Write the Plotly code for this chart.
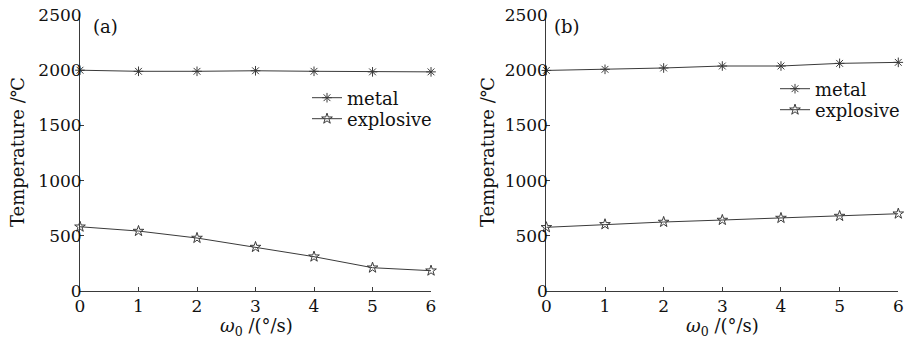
import plotly.graph_objects as go

omega = [0, 1, 2, 3, 4, 5, 6]
metal_a = [2000, 1990, 1990, 1995, 1990, 1985, 1985]
expl_a = [582, 543, 480, 398, 311, 211, 184]
metal_b = [1998, 2008, 2020, 2038, 2038, 2062, 2071]
expl_b = [577, 604, 625, 643, 661, 679, 700]
y_ticks = [0, 500, 1000, 1500, 2000, 2500]
x_ticks = [0, 1, 2, 3, 4, 5, 6]

FONT = "DejaVu Serif"
C = "#3a3a3a"
TXT = "#111"

fig = go.Figure()

def add(x, y, name, sym, xa, ya, leg):
    fig.add_trace(go.Scatter(
        x=x, y=y, name=name, mode="lines+markers", xaxis=xa, yaxis=ya,
        legend=leg, cliponaxis=False, showlegend=True,
        line=dict(color=C, width=1),
        marker=dict(symbol=sym, size=8, color=C, line=dict(color=C, width=1))))

add(omega, metal_a, "metal", "asterisk-open", "x", "y", "legend")
add(omega, expl_a, "explosive", "star-open", "x", "y", "legend2")
add(omega, metal_b, "metal", "asterisk-open", "x2", "y2", "legend3")
add(omega, expl_b, "explosive", "star-open", "x2", "y2", "legend4")

ax = dict(showgrid=False, zeroline=False, showline=True, linecolor=C, linewidth=1,
          ticks="inside", ticklen=4, tickcolor=C, mirror=False,
          tickfont=dict(family=FONT, size=17, color=TXT))

def leg(xp, yp):
    return dict(x=xp/908, y=1-yp/345, xanchor="left", yanchor="middle",
                bgcolor="rgba(0,0,0,0)", itemwidth=30,
                font=dict(family=FONT, size=18, color=TXT))

fig.update_layout(
    width=908, height=345, margin=dict(l=0, r=0, t=0, b=0, autoexpand=False),
    font=dict(family=FONT), showlegend=True,
    paper_bgcolor="white", plot_bgcolor="white",
    xaxis=dict(domain=[0.0881, 0.4747], range=[0, 6], tickvals=x_ticks, anchor="y",
               ticklabelstandoff=0, **ax),
    yaxis=dict(domain=[0.1565, 0.9565], range=[0, 2500], tickvals=y_ticks, anchor="x",
               ticklabelstandoff=-6, **ax),
    xaxis2=dict(domain=[0.6017, 0.9893], range=[0, 6], tickvals=x_ticks, anchor="y2",
                ticklabelstandoff=0, **ax),
    yaxis2=dict(domain=[0.1565, 0.9565], range=[0, 2500], tickvals=y_ticks, anchor="x2",
                ticklabelstandoff=-6, **ax),
    legend=leg(307, 98),
    legend2=leg(307, 119),
    legend3=leg(775, 89),
    legend4=leg(775, 110),
)

ann = dict(showarrow=False, xanchor="center", yanchor="middle",
           font=dict(family=FONT, size=18, color=TXT))
fig.add_annotation(x=105/908, y=1-27/345, xref="paper", yref="paper", text="(a)", **ann)
fig.add_annotation(x=567/908, y=1-27/345, xref="paper", yref="paper", text="(b)", **ann)
for xp in [17, 487]:
    fig.add_annotation(x=xp/908, y=1-152/345, xref="paper", yref="paper",
                       text="Temperature /℃", textangle=-90, **ann)
for xp in [256, 722]:
    fig.add_annotation(x=xp/908, y=1-327/345, xref="paper", yref="paper",
                       text="<i>ω</i><sub>0</sub> /(°/s)", **ann)

fig.write_html("out.html")
